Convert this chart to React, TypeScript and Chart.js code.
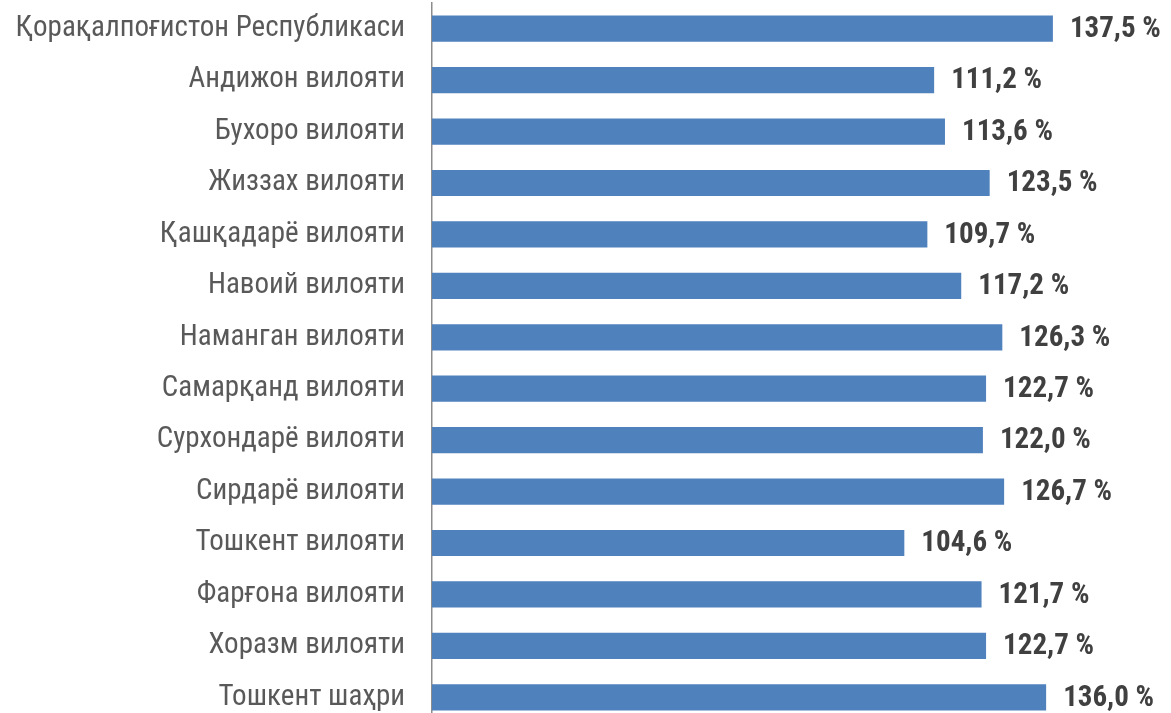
import React, { useEffect, useRef } from "react";
import { Chart, registerables } from "chart.js";

Chart.register(...registerables);

const categories = [
  "Қорақалпоғистон Республикаси",
  "Андижон вилояти",
  "Бухоро вилояти",
  "Жиззах вилояти",
  "Қашқадарё вилояти",
  "Навоий вилояти",
  "Наманган вилояти",
  "Самарқанд вилояти",
  "Сурхондарё вилояти",
  "Сирдарё вилояти",
  "Тошкент вилояти",
  "Фарғона вилояти",
  "Хоразм вилояти",
  "Тошкент шаҳри",
];

const values = [137.5, 111.2, 113.6, 123.5, 109.7, 117.2, 126.3, 122.7, 122.0, 126.7, 104.6, 121.7, 122.7, 136.0];

const valueLabels = values.map((v) => v.toFixed(1).replace(".", ",") + " %");

const FONT = "'Roboto Condensed', 'Liberation Sans Narrow', 'Arial Narrow', 'DejaVu Sans Condensed', Roboto, sans-serif";

const labelPlugin = {
  id: "valueLabels",
  afterDatasetsDraw(chart: any) {
    const ctx = chart.ctx;
    const meta = chart.getDatasetMeta(0);
    ctx.save();
    ctx.font = `bold 29px ${FONT}`;
    ctx.fillStyle = "#404040";
    ctx.textBaseline = "middle";
    ctx.textAlign = "left";
    meta.data.forEach((bar: any, i: number) => {
      ctx.fillText(valueLabels[i], bar.x + 17, bar.y + 1);
    });
    ctx.restore();
  },
};

export default function App() {
  const ref = useRef<HTMLCanvasElement>(null);

  useEffect(() => {
    document.body.style.margin = "0";
    const chart = new Chart(ref.current!, {
      type: "bar",
      data: {
        labels: categories,
        datasets: [
          {
            data: values,
            backgroundColor: "#4F81BD",
            borderWidth: 0,
            barPercentage: 0.51,
            categoryPercentage: 1,
          },
        ],
      },
      options: {
        indexAxis: "y",
        animation: false,
        responsive: false,
        layout: { padding: { top: 3, right: 16.5, bottom: 0, left: 0 } },
        plugins: { legend: { display: false }, tooltip: { enabled: false } },
        scales: {
          x: { display: false, min: 0, max: 160 },
          y: {
            grid: { display: false, drawTicks: false },
            border: { display: true, color: "#8C8C8C", width: 1.5 },
            ticks: {
              padding: 27,
              color: "#595959",
              font: { family: FONT, size: 29 },
            },
            afterFit(scale: any) {
              scale.width = 432;
              scale.paddingTop = 0;
              scale.paddingBottom = 0;
            },
          },
        },
      },
      plugins: [labelPlugin],
    });
    return () => chart.destroy();
  }, []);

  return (
    <div style={{ width: 1171, height: 723 }}>
      <canvas ref={ref} width={1171} height={723} style={{ width: 1171, height: 723, display: "block" }} />
    </div>
  );
}
